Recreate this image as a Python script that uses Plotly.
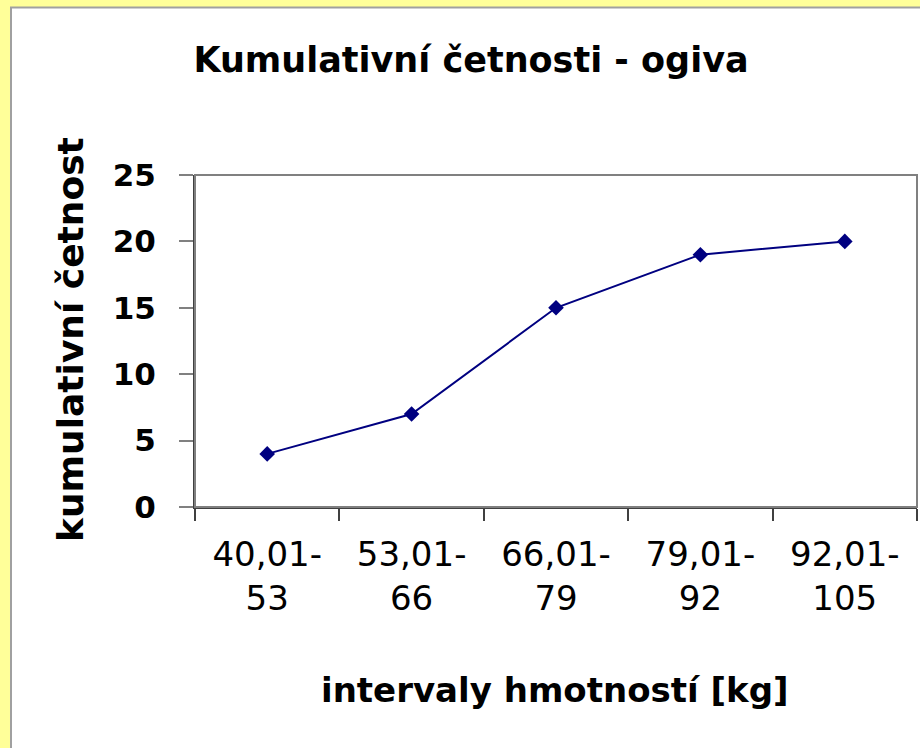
import plotly.graph_objects as go

categories = ["40,01-<br>53", "53,01-<br>66", "66,01-<br>79", "79,01-<br>92", "92,01-<br>105"]
cumulative = [4, 7, 15, 19, 20]
y_ticks = [0, 5, 10, 15, 20, 25]

W, H = 920, 748
L, R, T, B = 195, 917, 175, 507
pw, ph = R - L, B - T

def px_x(x):
    return (x - L) / pw

def px_y(y):
    return (B - y) / ph

fig = go.Figure()
fig.add_trace(go.Scatter(
    x=categories, y=cumulative, mode="lines+markers",
    line=dict(color="#000080", width=2),
    marker=dict(symbol="diamond", size=12, color="#000080"),
    showlegend=False, hoverinfo="skip",
))

fig.update_layout(
    width=W, height=H,
    margin=dict(l=L, r=W - R, t=T, b=H - B, pad=0),
    paper_bgcolor="#FFFF99",
    plot_bgcolor="white",
    title=dict(text="<b>Kumulativní četnosti - ogiva</b>", x=471 / W, xanchor="center",
               y=(H - 60) / H, yanchor="middle", yref="container",
               font=dict(family="DejaVu Sans", size=35, color="black")),
    xaxis=dict(type="category", range=[-0.5, 4.5], tickson="boundaries",
               ticks="outside", ticklen=12, tickcolor="#404040", tickwidth=1.5,
               showline=True, linecolor="#404040", linewidth=2, showgrid=False,
               tickfont=dict(family="DejaVu Sans", size=34, color="black"),
               ticklabelstandoff=16, fixedrange=True),
    yaxis=dict(range=[0, 25], tickvals=y_ticks, ticks="outside", ticklen=14,
               tickcolor="#808080", tickwidth=1.5,
               showline=True, linecolor="#404040", linewidth=2, showgrid=False,
               zeroline=False,
               tickfont=dict(family="DejaVu Sans", size=31, color="black", weight="bold"),
               ticklabelstandoff=17, fixedrange=True),
    shapes=[
        dict(type="rect", xref="paper", yref="paper", layer="below",
             x0=px_x(11), x1=px_x(940), y0=px_y(770), y1=px_y(7.5),
             fillcolor="white", line=dict(color="#A0A0A0", width=2)),
        dict(type="rect", xref="paper", yref="paper", layer="above",
             x0=0, x1=1, y0=0, y1=1, line=dict(color="#808080", width=2)),
    ],
    annotations=[
        dict(text="<b>kumulativní četnost</b>", textangle=-90, xref="paper", yref="paper",
             x=px_x(70), y=px_y(340), xanchor="center", yanchor="middle", showarrow=False,
             font=dict(family="DejaVu Sans", size=36, color="black")),
        dict(text="<b>intervaly hmotností [kg]</b>", xref="paper", yref="paper",
             x=px_x(555), y=px_y(690), xanchor="center", yanchor="middle", showarrow=False,
             font=dict(family="DejaVu Sans", size=34, color="black")),
    ],
)

fig.write_html(
    "out.html",
    config={"displayModeBar": False},
    post_script="document.body.style.margin='0';document.body.style.background='#FFFF99';",
)
